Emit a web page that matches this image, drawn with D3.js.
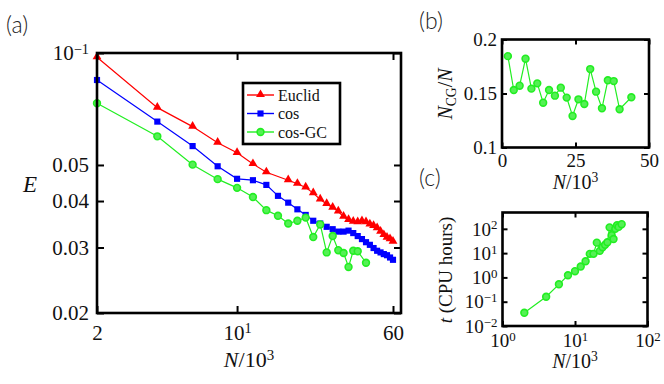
<!DOCTYPE html>
<html>
<head>
<meta charset="utf-8">
<script src="https://cdn.jsdelivr.net/npm/d3@7"></script>
<style>
  body { margin: 0; background: #fff; }
  svg { display: block; }
  svg text { font-family: 'Liberation Serif', 'DejaVu Serif', serif; }
  svg text.letter { font-family: Lato, 'Open Sans', 'DejaVu Sans', sans-serif; }
</style>
</head>
<body>
<div id="chart"></div>
<script>
// ---- data ----
// panel (a): error E vs N/10^3
const euclidN = [2, 4, 6, 8, 10, 12, 14, 18, 20, 22, 24, 26, 28, 30, 32, 34, 36, 38, 40, 42, 44, 46, 48, 50, 52, 54, 56, 58, 60];
const euclidE = [0.0974, 0.0713, 0.0634, 0.0574, 0.0539, 0.0503, 0.0478, 0.0455, 0.0445, 0.0435, 0.0420, 0.0404, 0.0393, 0.0384, 0.0375,
                 0.0363, 0.0356, 0.0352, 0.0351, 0.0353, 0.0351, 0.0346, 0.0343, 0.0338, 0.0331, 0.0324, 0.0319, 0.0316, 0.0311];
const cosN = [2, 4, 6, 8, 10, 12, 14, 16, 18, 20, 22, 24, 26, 28, 30, 32, 34, 36, 38, 40, 42, 44, 46, 48, 50, 52, 54, 56, 58, 60];
const cosE = [0.0846, 0.0654, 0.0562, 0.0496, 0.0459, 0.0455, 0.0442, 0.0413, 0.0396, 0.0380, 0.0367, 0.0354, 0.0348, 0.0341, 0.0336,
              0.0331, 0.0331, 0.0333, 0.0328, 0.0322, 0.0316, 0.0310, 0.0305, 0.0299, 0.0294, 0.0291, 0.0288, 0.0286, 0.0282, 0.0278];
const gcN = [2, 4, 6, 8, 10, 12, 14, 16, 18, 20, 22, 24, 26, 28, 30, 32, 34, 36, 38, 40, 44];
const gcE = [0.0733, 0.0597, 0.0501, 0.0458, 0.0434, 0.0410, 0.0378, 0.0365, 0.0348, 0.0354, 0.0361,
             0.0320, 0.0346, 0.0291, 0.0322, 0.0295, 0.0290, 0.0266, 0.0294, 0.0293, 0.0273];
// panel (b): N_CG / N
const ratio = [0.1846, 0.1532, 0.1572, 0.1822, 0.1545, 0.1594, 0.1415, 0.1532, 0.1480, 0.1554, 0.1462,
               0.1292, 0.1446, 0.1403, 0.1726, 0.1517, 0.1363, 0.1622, 0.1615, 0.1354, 0.1465];
// panel (c): CPU hours
const cpu = [0.035, 0.16, 0.52, 1.23, 1.8, 2.8, 4.6, 9.3, 9.3, 27, 12.4,
             17.5, 22, 28, 115, 55, 38, 100, 140, 120, 155];

const legendNames = ["Euclid", "cos", "cos-GC"];
const colors = ["#ff0000", "#0000ff", "#22ee22"];

const aYTicks = [0.1, 0.05, 0.04, 0.03, 0.02], aYLabels = ["10^−1", "0.05", "0.04", "0.03", "0.02"];
const aXTicks = [2, 10, 60], aXLabels = ["2", "10^1", "60"];
const bYTicks = [0.1, 0.15, 0.2], bYLabels = ["0.1", "0.15", "0.2"];
const bXTicks = [0, 25, 50], bXLabels = ["0", "25", "50"];
const cYTicks = [0.01, 0.1, 1, 10, 100], cYLabels = ["10^−2", "10^−1", "10^0", "10^1", "10^2"];
const cXTicks = [1, 10, 100], cXLabels = ["10^0", "10^1", "10^2"];

const width = 664, height = 384;

const svg = d3.select("#chart").append("svg")
  .attr("width", width).attr("height", height);

function setSup(sel, s) {
  const parts = s.split("^");
  sel.text(parts[0]);
  if (parts[1] !== undefined) {
    sel.append("tspan").attr("dy", "-0.48em").attr("font-size", "0.68em").text(parts[1]);
  }
}

// frame + inward ticks on all four sides, labels on left/bottom
function drawAxes(box, x, y, o) {
  const g = svg.append("g");
  const fmt = (ticks, labels) => d => labels[ticks.indexOf(d)];

  const bottom = g.append("g").attr("transform", `translate(0,${box.y1})`)
    .call(d3.axisBottom(x).tickValues(o.xTicks).tickSizeInner(-o.tick).tickSizeOuter(0).tickPadding(o.padX).tickFormat(fmt(o.xTicks, o.xLabels)));
  const top = g.append("g").attr("transform", `translate(0,${box.y0})`)
    .call(d3.axisTop(x).tickValues(o.xTicks).tickSizeInner(-o.tick).tickSizeOuter(0).tickFormat(""));
  const left = g.append("g").attr("transform", `translate(${box.x0},0)`)
    .call(d3.axisLeft(y).tickValues(o.yTicks).tickSizeInner(-o.tick).tickSizeOuter(0).tickPadding(o.padY).tickFormat(fmt(o.yTicks, o.yLabels)));
  const right = g.append("g").attr("transform", `translate(${box.x1},0)`)
    .call(d3.axisRight(y).tickValues(o.yTicks).tickSizeInner(-o.tick).tickSizeOuter(0).tickFormat(""));

  [bottom, top, left, right].forEach(a => {
    a.select(".domain").remove();
    a.selectAll(".tick line").attr("stroke", "#000").attr("stroke-width", 2);
    a.selectAll("text").attr("font-size", o.fs).attr("fill", "#111");
  });
  [bottom, left].forEach(a => a.selectAll(".tick text").each(function() {
    const t = d3.select(this);
    setSup(t, t.text());
  }));
  left.selectAll(".tick text").attr("dy", "0.33em");

  g.append("rect")
    .attr("x", box.x0).attr("y", box.y0)
    .attr("width", box.x1 - box.x0).attr("height", box.y1 - box.y0)
    .attr("fill", "none").attr("stroke", "#000").attr("stroke-width", 2.6);
  return g;
}

function nOver(sel) {
  sel.append("tspan").attr("font-style", "italic").text("N");
  sel.append("tspan").text("/10");
  sel.append("tspan").attr("dy", "-0.48em").attr("font-size", "0.68em").text("3");
}

function marker(g, kind, color, cx, cy) {
  if (kind === 2) {
    g.append("circle").attr("cx", cx).attr("cy", cy).attr("r", 3.4)
      .attr("fill", "#55f055").attr("stroke", color).attr("stroke-width", 1.6);
  } else {
    const sym = kind === 0 ? d3.symbolTriangle : d3.symbolSquare;
    const size = kind === 0 ? 34 : 38;
    g.append("path").attr("d", d3.symbol(sym, size)())
      .attr("transform", `translate(${cx},${cy})${kind === 0 ? " translate(0,-0.5)" : ""}`)
      .attr("fill", color);
  }
}

function series(g, x, y, xs, ys, kind, color) {
  const pts = xs.map((v, i) => [v, ys[i]]);
  g.append("path").datum(pts)
    .attr("d", d3.line().x(d => x(d[0])).y(d => y(d[1])))
    .attr("fill", "none").attr("stroke", color).attr("stroke-width", 1.2);
  pts.forEach(d => marker(g, kind, color, x(d[0]), y(d[1])));
}

// ---------- panel (a) ----------
const boxA = {x0: 97, x1: 401, y0: 53, y1: 313};
const xA = d3.scaleLog().domain([2, 60]).range([97, 393]);
const yA = d3.scaleLog().domain([0.02, 0.1]).range([boxA.y1, boxA.y0]);

const plotA = svg.append("g");
series(plotA, xA, yA, euclidN, euclidE, 0, colors[0]);
series(plotA, xA, yA, cosN, cosE, 1, colors[1]);
series(plotA, xA, yA, gcN, gcE, 2, colors[2]);

drawAxes(boxA, xA, yA, {xTicks: aXTicks, xLabels: aXLabels, yTicks: aYTicks, yLabels: aYLabels,
  tick: 7, fs: 21, padX: 12, padY: 8});

svg.append("text").attr("x", (boxA.x0 + boxA.x1) / 2).attr("y", 367)
  .attr("text-anchor", "middle").attr("font-size", 22).attr("fill", "#111").call(nOver);
svg.append("text").attr("x", 30).attr("y", 192).attr("text-anchor", "middle")
  .attr("font-size", 23).attr("font-style", "italic").attr("fill", "#111").text("E");

// legend
const legend = svg.append("g");
legend.append("rect").attr("x", 243).attr("y", 83).attr("width", 97).attr("height", 61)
  .attr("fill", "#fff").attr("stroke", "#000").attr("stroke-width", 2.6);
legendNames.forEach((name, i) => {
  const ly = 95 + i * 18.5;
  legend.append("line").attr("x1", 247).attr("x2", 274).attr("y1", ly).attr("y2", ly)
    .attr("stroke", colors[i]).attr("stroke-width", 1.4);
  marker(legend, i, colors[i], 260.5, ly);
  legend.append("text").attr("x", 278).attr("y", ly + 5.5).attr("font-size", 16).attr("fill", "#111").text(name);
});

// ---------- panel (b) ----------
const boxB = {x0: 502, x1: 649, y0: 39.5, y1: 147.5};
const xB = d3.scaleLinear().domain([0, 50]).range([boxB.x0, boxB.x1]);
const yB = d3.scaleLinear().domain([0.1, 0.2]).range([boxB.y1, boxB.y0]);
const plotB = svg.append("g");
series(plotB, xB, yB, gcN, ratio, 2, colors[2]);
drawAxes(boxB, xB, yB, {xTicks: bXTicks, xLabels: bXLabels, yTicks: bYTicks, yLabels: bYLabels,
  tick: 5, fs: 19, padX: 6, padY: 5});

svg.append("text").attr("x", (boxB.x0 + boxB.x1) / 2).attr("y", 189)
  .attr("text-anchor", "middle").attr("font-size", 20).attr("fill", "#111").call(nOver);
const ylabB = svg.append("text").attr("transform", "translate(452,94) rotate(-90)")
  .attr("text-anchor", "middle").attr("font-size", 20).attr("fill", "#111");
ylabB.append("tspan").attr("font-style", "italic").text("N");
ylabB.append("tspan").attr("font-size", "0.68em").attr("dy", "0.3em").text("CG");
ylabB.append("tspan").attr("dy", "-0.2em").text("/");
ylabB.append("tspan").attr("font-style", "italic").text("N");

// ---------- panel (c) ----------
const boxC = {x0: 502.5, x1: 647.5, y0: 212.5, y1: 326};
const xC = d3.scaleLog().domain([1, 100]).range([boxC.x0, boxC.x1]);
const yC = d3.scaleLog().domain([0.01, 470]).range([boxC.y1, boxC.y0]);
const plotC = svg.append("g");
series(plotC, xC, yC, gcN, cpu, 2, colors[2]);
drawAxes(boxC, xC, yC, {xTicks: cXTicks, xLabels: cXLabels, yTicks: cYTicks, yLabels: cYLabels,
  tick: 5, fs: 19, padX: 8, padY: 5});

svg.append("text").attr("x", (boxC.x0 + boxC.x1) / 2).attr("y", 368)
  .attr("text-anchor", "middle").attr("font-size", 20).attr("fill", "#111").call(nOver);
const ylabC = svg.append("text").attr("transform", "translate(452,270) rotate(-90)")
  .attr("text-anchor", "middle").attr("font-size", 19).attr("fill", "#111");
ylabC.append("tspan").attr("font-style", "italic").text("t");
ylabC.append("tspan").text(" (CPU hours)");

// panel letters
[["(a)", 6, 33], ["(b)", 419, 29], ["(c)", 419, 186]].forEach(([t, x, y]) => {
  svg.append("text").attr("class", "letter").attr("x", x).attr("y", y)
    .attr("font-weight", 300).attr("font-size", 23).attr("fill", "#222").text(t);
});
</script>
</body>
</html>
